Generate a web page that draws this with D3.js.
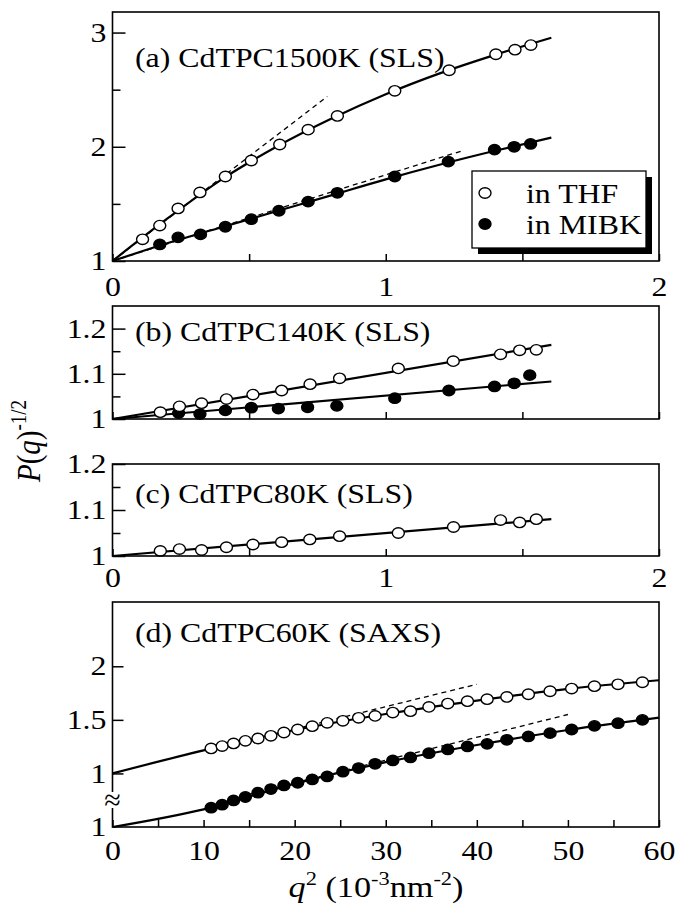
<!DOCTYPE html>
<html>
<head>
<meta charset="utf-8">
<script src="https://cdn.jsdelivr.net/npm/d3@7"></script>
<style>
body { margin: 0; background: #fff; }
svg text { font-family: "Liberation Serif", "Times New Roman", serif; fill: #000; }
</style>
</head>
<body>
<svg width="677" height="908"></svg>
<script>
// (a) CdTPC1500K (SLS)
let aThfX = [0.11, 0.173, 0.24, 0.32, 0.413, 0.508, 0.612, 0.716, 0.823, 1.033, 1.232, 1.403, 1.473, 1.531]
let aThfY = [1.19, 1.31, 1.46, 1.60, 1.74, 1.88, 2.02, 2.15, 2.27, 2.49, 2.67, 2.81, 2.85, 2.89]
let aMibkX = [0.173, 0.24, 0.322, 0.413, 0.508, 0.609, 0.716, 0.823, 1.033, 1.229, 1.398, 1.47, 1.53]
let aMibkY = [1.145, 1.207, 1.233, 1.30, 1.366, 1.44, 1.52, 1.597, 1.74, 1.87, 1.975, 2.0, 2.025]
let aFitX = [0, 0.2, 0.4, 0.6, 0.8, 1.0, 1.2, 1.4, 1.606]
let aThfFitY = [1, 1.37, 1.715, 2.0, 2.245, 2.46, 2.645, 2.805, 2.955]
let aMibkFitY = [1, 1.155, 1.295, 1.435, 1.575, 1.715, 1.845, 1.965, 2.08]
let aThfDashX = [0, 0.786], aThfDashY = [1, 2.44]
let aMibkDashX = [0, 1.281], aMibkDashY = [1, 1.966]

// (b) CdTPC140K (SLS)
let bThfX = [0.175, 0.245, 0.326, 0.417, 0.514, 0.619, 0.723, 0.831, 1.046, 1.247, 1.42, 1.49, 1.551]
let bThfY = [1.015, 1.028, 1.035, 1.044, 1.054, 1.063, 1.077, 1.09, 1.112, 1.128, 1.143, 1.152, 1.153]
let bMibkX = [0.242, 0.32, 0.413, 0.508, 0.607, 0.714, 0.821, 1.033, 1.231, 1.398, 1.47, 1.527]
let bMibkY = [1.013, 1.011, 1.019, 1.025, 1.023, 1.026, 1.029, 1.046, 1.063, 1.072, 1.079, 1.097]
let bFitX = [0, 1.606]
let bThfFitY = [1, 1.164]
let bMibkFitY = [1, 1.083]

// (c) CdTPC80K (SLS)
let cThfX = [0.175, 0.245, 0.326, 0.417, 0.514, 0.619, 0.722, 0.831, 1.046, 1.248, 1.42, 1.49, 1.551]
let cThfY = [1.011, 1.015, 1.013, 1.019, 1.025, 1.030, 1.036, 1.043, 1.050, 1.063, 1.078, 1.073, 1.080]
let cFitX = [0, 1.606]
let cThfFitY = [1, 1.08]

// (d) CdTPC60K (SAXS), MIBK drawn on the lower (broken) scale
let dX = [10.83, 12.04, 13.29, 14.59, 15.97, 17.39, 18.82, 20.33, 21.93, 23.57, 25.29, 27.02, 28.83,
          30.77, 32.71, 34.74, 36.81, 38.97, 41.13, 43.29, 45.66, 48.04, 50.41, 52.91, 55.50, 58.18]
let dThfY = [1.233, 1.255, 1.28, 1.304, 1.326, 1.351, 1.382, 1.41, 1.441, 1.472, 1.491, 1.519, 1.537,
             1.568, 1.581, 1.621, 1.652, 1.674, 1.693, 1.714, 1.739, 1.767, 1.792, 1.814, 1.832, 1.851]
let dMibkY = [1.18, 1.208, 1.248, 1.28, 1.32, 1.354, 1.388, 1.413, 1.444, 1.472, 1.516, 1.55, 1.59,
              1.621, 1.649, 1.689, 1.724, 1.752, 1.776, 1.814, 1.845, 1.876, 1.91, 1.944, 1.969, 2.0]
let dFitX = [0, 10, 20, 30, 40, 50, 60]
let dThfFitY = [1, 1.215, 1.405, 1.555, 1.68, 1.79, 1.87]
let dMibkFitY = [1, 1.165, 1.405, 1.605, 1.765, 1.905, 2.02]
let dThfDashX = [15, 40], dThfDashY = [1.31, 1.832]
let dMibkDashX = [15, 50], dMibkDashY = [1.305, 2.05]

let panelLabels = ["(a) CdTPC1500K (SLS)", "(b) CdTPC140K (SLS)", "(c) CdTPC80K (SLS)", "(d) CdTPC60K (SAXS)"]
let legendLabels = ["in THF", "in MIBK"]

let svg = d3.select("svg")
let left = 112.5, right = 659
let stretchX = 1.18
let fontSize = 27
let fmtNum = d3.format("~g")

// the original figure is a bit wider than tall, so text is widened around its anchor
let widen = sel => sel.each(function () {
    let t = d3.select(this)
    let x0 = +t.attr("x") || 0
    t.attr("transform", `translate(${x0},0) scale(${stretchX},1) translate(${-x0},0)`)
})

let styleAxis = g => {
    g.select(".domain").remove()
    g.attr("font-family", null)
    g.selectAll("line").attr("stroke", "#000").attr("stroke-width", 1.5)
    g.selectAll("text").attr("font-size", fontSize).attr("fill", "#000").call(widen)
}

let frame = (top, bottom) => {
    svg.append("rect")
        .attr("x", left).attr("y", top)
        .attr("width", right - left).attr("height", bottom - top)
        .attr("fill", "none").attr("stroke", "#000").attr("stroke-width", 1.6)
}

let yAxis = (y, major, minor, showLabels = true) => {
    svg.append("g").attr("transform", `translate(${left},0)`)
        .call(d3.axisLeft(y).tickValues(major).tickSize(-13).tickPadding(6)
            .tickFormat(showLabels ? fmtNum : ""))
        .call(styleAxis)
    if (minor.length) {
        svg.append("g").attr("transform", `translate(${left},0)`)
            .call(d3.axisLeft(y).tickValues(minor).tickSize(-8).tickFormat(""))
            .call(styleAxis)
    }
}

let xAxis = (x, y0, ticks, labelled, pad) => {
    svg.append("g").attr("transform", `translate(0,${y0})`)
        .call(d3.axisBottom(x).tickValues(ticks).tickSize(-7).tickPadding(pad)
            .tickFormat(d => labelled.includes(d) ? fmtNum(d) : ""))
        .call(styleAxis)
}

let curve = (x, y, xs, ys, dashed = false, smooth = true) => {
    let line = d3.line().x(d => x(d[0])).y(d => y(d[1]))
        .curve(smooth ? d3.curveMonotoneX : d3.curveLinear)
    svg.append("path")
        .datum(d3.zip(xs, ys))
        .attr("d", line)
        .attr("fill", "none")
        .attr("stroke", "#000")
        .attr("stroke-width", dashed ? 1.3 : 2.2)
        .attr("stroke-dasharray", dashed ? "5,4" : null)
}

let points = (x, y, xs, ys, filled) => {
    svg.append("g").selectAll("ellipse")
        .data(d3.zip(xs, ys))
        .enter()
        .append("ellipse")
        .attr("cx", d => x(d[0]))
        .attr("cy", d => y(d[1]))
        .attr("rx", 6)
        .attr("ry", 5.2)
        .attr("fill", filled ? "#000" : "#fff")
        .attr("stroke", "#000")
        .attr("stroke-width", 1.4)
}

let panelLabel = (txt, yBase) => {
    svg.append("text").attr("x", 135).attr("y", yBase)
        .attr("font-size", fontSize).text(txt).call(widen)
}

// ---------- (a)
let xA = d3.scaleLinear().domain([0, 2]).range([left, right])
let yA = d3.scaleLinear().domain([1, 3.18]).range([261, 12])
xAxis(xA, 261, [0, 0.5, 1, 1.5, 2], [0, 1, 2], 16)
yAxis(yA, [1, 2, 3], [1.5, 2.5])
curve(xA, yA, aThfDashX, aThfDashY, true)
curve(xA, yA, aMibkDashX, aMibkDashY, true)
curve(xA, yA, aFitX, aThfFitY)
curve(xA, yA, aFitX, aMibkFitY)
points(xA, yA, aThfX, aThfY, false)
points(xA, yA, aMibkX, aMibkY, true)
frame(12, 261)
panelLabel(panelLabels[0], 67)

// legend with drop shadow
let lg = { x: 472, y: 171, w: 174, h: 77 }
svg.append("rect").attr("x", lg.x + 6).attr("y", lg.y + 6).attr("width", lg.w).attr("height", lg.h).attr("fill", "#000")
svg.append("rect").attr("x", lg.x).attr("y", lg.y).attr("width", lg.w).attr("height", lg.h)
    .attr("fill", "#fff").attr("stroke", "#000").attr("stroke-width", 1.3)
legendLabels.forEach((t, i) => {
    let cy = 193 + i * 31
    svg.append("ellipse").attr("cx", 485).attr("cy", cy).attr("rx", 6).attr("ry", 5.2)
        .attr("fill", i ? "#000" : "#fff").attr("stroke", "#000").attr("stroke-width", 1.4)
    svg.append("text").attr("x", 526).attr("y", cy + 10).attr("font-size", fontSize).text(t).call(widen)
})

// ---------- (b)
let yB = d3.scaleLinear().domain([1, 1.25]).range([419, 306])
xAxis(xA, 419, [0, 0.5, 1, 1.5, 2], [], 16)
yAxis(yB, [1, 1.1, 1.2], [1.05, 1.15])
curve(xA, yB, bFitX, bThfFitY, false, false)
curve(xA, yB, bFitX, bMibkFitY, false, false)
points(xA, yB, bMibkX, bMibkY, true)
points(xA, yB, bThfX, bThfY, false)
frame(306, 419)
panelLabel(panelLabels[1], 341)

// ---------- (c)
let yC = d3.scaleLinear().domain([1, 1.2]).range([556, 464])
xAxis(xA, 556, [0, 0.5, 1, 1.5, 2], [0, 1, 2], 12)
yAxis(yC, [1, 1.1, 1.2], [1.05, 1.15])
curve(xA, yC, cFitX, cThfFitY, false, false)
points(xA, yC, cThfX, cThfY, false)
frame(464, 556)
panelLabel(panelLabels[2], 503)

// ---------- (d)
let xD = d3.scaleLinear().domain([0, 60]).range([left, right])
let yDup = d3.scaleLinear().domain([0.5, 2.6]).range([827, 602])
let yDlow = d3.scaleLinear().domain([1, 3.1]).range([827, 602])
xAxis(xD, 827, d3.range(0, 61, 5), [0, 10, 20, 30, 40, 50, 60], 14)
svg.append("g").attr("transform", `translate(${left},0)`)
    .call(d3.axisLeft(yDup).tickValues([1, 1.5, 2]).tickSize(-11).tickPadding(6).tickFormat(fmtNum))
    .call(styleAxis)
svg.append("g").attr("transform", `translate(${left},0)`)
    .call(d3.axisLeft(yDlow).tickValues([1]).tickSize(0).tickPadding(6).tickFormat(fmtNum))
    .call(styleAxis)
curve(xD, yDup, dThfDashX, dThfDashY, true, false)
curve(xD, yDlow, dMibkDashX, dMibkDashY, true, false)
curve(xD, yDup, dFitX, dThfFitY)
curve(xD, yDlow, dFitX, dMibkFitY)
points(xD, yDup, dX, dThfY, false)
points(xD, yDlow, dX, dMibkY, true)
frame(602, 827)
panelLabel(panelLabels[3], 642)

// axis break mark
svg.append("rect").attr("x", left - 8).attr("y", 792).attr("width", 16).attr("height", 16).attr("fill", "#fff")
svg.append("text").attr("x", left).attr("y", 810).attr("text-anchor", "middle")
    .attr("font-size", 30).text("≈")

// ---------- axis titles
let yt = svg.append("text")
    .attr("transform", `translate(40,441) rotate(-90) scale(1,${stretchX})`)
    .attr("text-anchor", "middle").attr("font-size", 29)
yt.append("tspan").attr("font-style", "italic").text("P")
yt.append("tspan").text("(")
yt.append("tspan").attr("font-style", "italic").text("q")
yt.append("tspan").text(")")
yt.append("tspan").attr("font-size", 19).attr("dy", -12).text("-1/2")

let xt = svg.append("text").attr("x", 376).attr("y", 897)
    .attr("text-anchor", "middle").attr("font-size", 29)
xt.append("tspan").attr("font-style", "italic").text("q")
xt.append("tspan").attr("font-size", 19).attr("dy", -12).text("2")
xt.append("tspan").attr("dy", 12).text(" (10")
xt.append("tspan").attr("font-size", 19).attr("dy", -12).text("-3")
xt.append("tspan").attr("dy", 12).text("nm")
xt.append("tspan").attr("font-size", 19).attr("dy", -12).text("-2")
xt.append("tspan").attr("dy", 12).text(")")
xt.call(widen)
</script>
</body>
</html>
